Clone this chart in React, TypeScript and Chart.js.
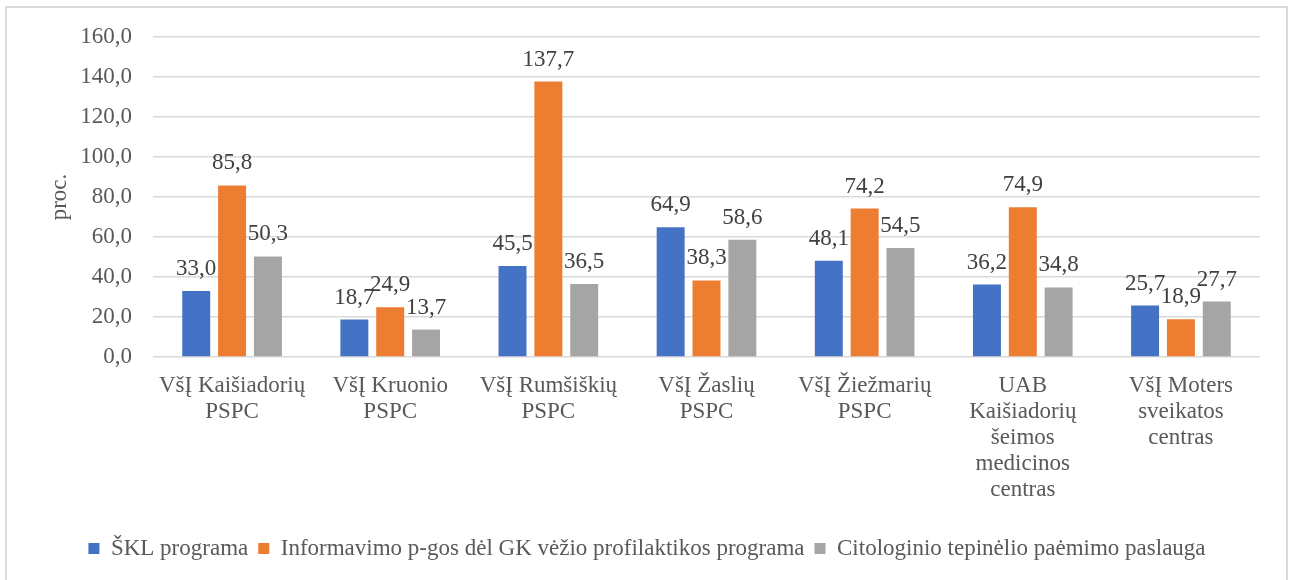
import React, { useEffect, useRef } from "react";
import { Chart, registerables } from "chart.js";

Chart.register(...registerables);

const categories: string[][] = [
  ["VšĮ Kaišiadorių", "PSPC"],
  ["VšĮ Kruonio", "PSPC"],
  ["VšĮ Rumšiškių", "PSPC"],
  ["VšĮ Žaslių", "PSPC"],
  ["VšĮ Žiežmarių", "PSPC"],
  ["UAB", "Kaišiadorių", "šeimos", "medicinos", "centras"],
  ["VšĮ Moters", "sveikatos", "centras"],
];

const seriesNames = [
  "ŠKL programa",
  "Informavimo p-gos dėl GK vėžio profilaktikos programa",
  "Citologinio tepinėlio paėmimo paslauga",
];

const sklValues = [33.0, 18.7, 45.5, 64.9, 48.1, 36.2, 25.7];
const informavimoValues = [85.8, 24.9, 137.7, 38.3, 74.2, 74.9, 18.9];
const citologinioValues = [50.3, 13.7, 36.5, 58.6, 54.5, 34.8, 27.7];

const colors = ["#4472C4", "#ED7D31", "#A5A5A5"];

const yTitle = "proc.";
const yMin = 0;
const yMax = 160;
const yStep = 20;

const FONT = "'Liberation Serif', 'Times New Roman', serif";

const fmt = (v: number) => v.toFixed(1).replace(".", ",");

const dataLabelPlugin = {
  id: "dataLabels",
  afterDatasetsDraw(chart: any) {
    const ctx = chart.ctx;
    ctx.save();
    ctx.font = `23px ${FONT}`;
    ctx.fillStyle = "#404040";
    ctx.textAlign = "center";
    ctx.textBaseline = "alphabetic";
    chart.data.datasets.forEach((ds: any, di: number) => {
      const meta = chart.getDatasetMeta(di);
      meta.data.forEach((bar: any, i: number) => {
        const v = ds.data[i] as number;
        ctx.fillText(fmt(v), bar.x, bar.y - 16);
      });
    });
    ctx.restore();
  },
};

export default function App() {
  const canvasRef = useRef<HTMLCanvasElement | null>(null);

  useEffect(() => {
    document.body.style.margin = "0";
    const canvas = canvasRef.current;
    if (!canvas) return;
    const datasetsValues = [sklValues, informavimoValues, citologinioValues];
    const chart = new Chart(canvas, {
      type: "bar",
      data: {
        labels: categories,
        datasets: datasetsValues.map((vals, i) => ({
          label: seriesNames[i],
          data: vals,
          backgroundColor: colors[i],
          borderWidth: 0,
          barPercentage: 0.78,
          categoryPercentage: 0.68,
        })),
      },
      options: {
        animation: false,
        responsive: false,
        maintainAspectRatio: false,
        layout: { padding: { left: 34, right: 34, top: 37, bottom: 10 } },
        plugins: {
          legend: {
            position: "bottom",
            labels: {
              boxWidth: 11,
              boxHeight: 11,
              padding: 10,
              color: "#595959",
              font: { family: FONT, size: 23 },
            },
          },
          tooltip: { enabled: false },
        },
        scales: {
          x: {
            grid: { display: false, drawTicks: false },
            border: { display: false },
            ticks: {
              color: "#595959",
              font: { family: FONT, size: 23, lineHeight: 1.13 },
              padding: 16,
              maxRotation: 0,
              autoSkip: false,
            },
            afterFit(scale: any) {
              scale.height = 170;
            },
          },
          y: {
            min: yMin,
            max: yMax,
            grid: { color: "#D9D9D9", lineWidth: 1.5, drawTicks: false },
            border: { display: false },
            ticks: {
              stepSize: yStep,
              color: "#595959",
              font: { family: FONT, size: 23 },
              padding: 21,
              callback: (v: any) => fmt(Number(v)),
            },
            title: {
              display: true,
              text: yTitle,
              color: "#595959",
              font: { family: FONT, size: 23 },
              padding: { top: 12, bottom: 0 },
            },
            afterFit(scale: any) {
              scale.width = 153 - 34;
            },
          },
        },
      },
      plugins: [dataLabelPlugin],
    });
    return () => chart.destroy();
  }, []);

  return (
    <div style={{ position: "relative", width: 1294, height: 580, overflow: "hidden", background: "#fff" }}>
      <div
        style={{
          position: "absolute",
          left: 5,
          top: 6,
          width: 1283,
          height: 600,
          border: "2px solid #D9D9D9",
          boxSizing: "border-box",
        }}
      />
      <canvas
        ref={canvasRef}
        width={1294}
        height={580}
        style={{ position: "absolute", left: 0, top: 0, width: 1294, height: 580 }}
      />
    </div>
  );
}
